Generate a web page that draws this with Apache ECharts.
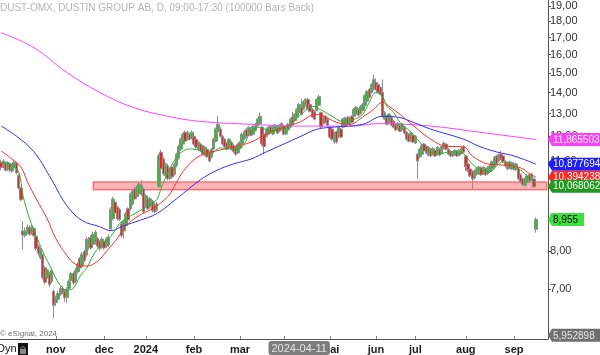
<!DOCTYPE html>
<html>
<head>
<meta charset="utf-8">
<script src="https://cdn.jsdelivr.net/npm/echarts@6/dist/echarts.min.js"></script>
<style>
  html, body { margin: 0; padding: 0; background: #fff; }
  #chart { width: 600px; height: 355px; }
</style>
</head>
<body>
<div id="chart"></div>
<script>
// trading calendar (Nasdaq Stockholm)
const firstDay = '2023-09-27'
const lastDay = '2024-09-23'
const holidays = ['2023-12-25', '2023-12-26', '2024-01-01', '2024-03-29', '2024-04-01',
  '2024-05-01', '2024-05-09', '2024-06-06', '2024-06-21']

const monthTicks = {
  '2023-11-01': 'nov', '2023-12-01': 'dec', '2024-01-02': '2024', '2024-02-01': 'feb',
  '2024-03-01': 'mar', '2024-04-02': 'apr', '2024-05-02': 'mai', '2024-06-03': 'jun',
  '2024-07-01': 'jul', '2024-08-01': 'aug', '2024-09-02': 'sep'
}

// [open, close, low, high]
const ohlc = [
  [10.95,10.75,10.65,11.05],[10.8,11.0,10.72,11.08],[10.9,10.65,10.6,10.98],[10.7,10.95,10.62,11.0],[10.9,10.66,10.58,10.95],
  [10.62,10.8,10.55,10.86],[10.75,10.95,10.7,11.02],[10.9,10.55,10.5,10.95],[10.45,10.0,9.95,10.5],[10.0,9.6,9.55,10.05],
  [8.6,8.48,8.05,8.9],[8.46,8.6,8.4,8.7],[8.55,8.72,8.5,8.8],[8.7,8.5,8.45,8.78],[8.52,8.7,8.48,8.78],
  [8.67,8.46,8.42,8.72],[8.43,8.08,8.02,8.5],[8.15,7.95,7.88,8.2],[7.82,8.05,7.78,8.1],[7.9,7.3,7.25,7.95],
  [7.55,7.18,7.12,7.6],[7.28,7.5,7.22,7.56],[7.4,7.12,7.05,7.45],[7.2,7.48,7.15,7.55],[6.95,6.62,6.33,7.0],
  [6.68,6.78,6.6,6.85],[6.76,6.9,6.7,6.96],[6.88,7.02,6.84,7.08],[7.02,6.92,6.88,7.08],[6.95,6.8,6.7,7.0],
  [6.8,7.0,6.67,7.05],[7.02,7.2,6.98,7.25],[7.22,7.4,7.18,7.45],[7.4,7.16,7.12,7.45],[7.2,7.48,7.15,7.55],
  [7.45,7.65,7.4,7.7],[7.8,7.55,7.5,7.85],[7.6,7.92,7.55,7.98],[8.0,7.75,7.7,8.05],[7.9,8.35,7.85,8.42],
  [8.12,8.35,8.05,8.42],[8.4,8.1,8.05,8.48],[8.2,8.5,8.15,8.58],[8.25,8.56,8.2,8.62],[8.37,8.15,8.1,8.42],
  [8.28,8.08,8.02,8.33],[8.12,8.36,8.08,8.42],[8.3,8.1,8.05,8.35],[8.15,8.37,8.1,8.42],[8.18,8.42,8.12,8.5],
  [8.66,9.28,8.6,9.35],[8.98,9.62,8.92,9.7],[9.52,9.16,9.1,9.6],[9.35,8.98,8.92,9.4],[9.28,8.95,8.9,9.33],
  [8.82,8.46,8.4,8.88],[8.6,8.9,8.38,8.95],[8.76,9.14,8.7,9.2],[9.3,8.94,8.9,9.35],[9.3,9.8,9.25,9.85],
  [9.46,9.9,9.4,9.97],[9.97,9.63,9.58,10.03],[9.7,10.03,9.65,10.1],[9.8,10.15,9.75,10.2],[9.78,10.1,9.72,10.28],
  [9.97,9.2,9.15,10.02],[9.4,9.73,9.35,9.8],[9.63,9.3,9.25,9.7],[9.36,9.63,9.3,9.7],[9.55,9.23,9.18,9.6],
  [9.42,9.2,9.15,9.5],[9.25,9.46,9.2,9.52],[10.05,11.2,10.0,11.3],[11.35,10.72,10.65,11.45],[11.08,10.52,10.45,11.15],
  [10.45,10.88,10.4,10.95],[10.82,10.33,10.28,10.9],[10.35,10.7,10.3,10.76],[10.77,10.4,10.35,10.82],[10.5,10.88,10.45,10.95],
  [10.82,11.27,10.76,11.33],[11.1,11.58,11.05,11.65],[11.47,11.88,11.4,11.95],[11.68,12.09,11.6,12.15],[12.18,11.8,11.75,12.25],
  [11.88,12.18,11.82,12.25],[12.09,11.88,11.83,12.15],[11.92,12.18,11.88,12.25],[12.0,11.68,11.62,12.05],[11.88,11.55,11.5,11.95],
  [11.47,11.75,11.42,11.82],[11.68,11.4,11.35,11.72],[11.6,11.27,11.22,11.65],[11.25,11.55,11.2,11.6],[11.47,11.17,11.12,11.52],
  [11.38,11.0,10.95,11.42],[11.15,11.47,11.1,11.52],[11.47,11.88,11.42,11.95],[11.8,12.31,11.75,12.38],[12.2,12.52,12.15,12.88],
  [12.31,12.0,11.95,12.4],[12.0,11.68,11.62,12.05],[11.88,11.58,11.52,11.93],[11.72,11.47,11.42,11.78],[11.55,11.88,11.5,11.92],
  [11.75,11.47,11.42,11.8],[11.62,11.38,11.32,11.68],[11.52,11.27,11.2,11.56],[11.32,11.66,11.28,11.72],[11.5,11.75,11.45,11.8],
  [11.68,12.09,11.62,12.15],[11.9,12.2,11.85,12.28],[12.28,12.0,11.95,12.35],[12.1,12.39,12.05,12.45],[12.3,12.05,12.0,12.38],
  [12.09,12.42,12.05,12.5],[12.25,12.52,12.2,12.58],[12.45,12.75,12.4,12.82],[12.55,12.88,12.5,13.05],[12.4,11.68,11.62,12.45],
  [12.09,11.58,11.27,12.15],[12.0,12.31,11.95,12.38],[12.09,12.39,12.05,12.45],[12.42,12.18,12.12,12.48],[12.1,12.38,12.05,12.44],
  [12.27,12.48,12.22,12.54],[12.39,12.14,12.1,12.45],[12.22,12.48,12.18,12.54],[12.31,12.56,12.27,12.62],[12.44,12.09,12.04,12.5],
  [12.1,12.39,12.05,12.45],[12.27,12.52,12.22,12.58],[12.39,12.75,12.35,12.82],[12.84,12.52,12.47,13.07],[12.68,12.97,12.63,13.03],
  [12.84,13.2,12.8,13.26],[13.05,13.43,13.0,13.5],[13.3,12.97,12.92,13.7],[13.2,13.57,13.15,13.63],[13.35,13.67,13.3,13.74],
  [13.67,13.2,13.15,13.74],[13.43,13.1,13.05,13.48],[13.2,12.84,12.8,13.25],[13.1,12.75,12.7,13.15],[13.15,13.67,13.1,13.72],
  [13.39,13.8,13.35,13.9],[13.05,12.4,12.35,13.1],[12.55,12.84,12.5,12.9],[12.88,12.61,12.56,12.94],[12.75,12.48,12.43,12.8],
  [12.39,11.97,11.92,12.45],[12.31,11.88,11.82,12.36],[11.76,12.14,11.7,12.2],[12.2,11.76,11.7,12.25],[11.97,12.39,11.92,12.45],
  [12.31,11.97,11.92,12.36],[12.39,12.75,12.35,12.8],[12.44,12.8,12.4,12.86],[12.84,12.56,12.5,12.9],[12.52,12.82,12.47,12.88],
  [12.88,12.61,12.56,12.93],[12.88,13.2,12.83,13.26],[12.97,13.3,12.92,13.36],[13.2,12.93,12.88,13.25],[13.0,13.34,12.95,13.4],
  [13.15,13.43,13.1,13.5],[13.38,13.86,13.33,13.92],[13.58,14.06,13.52,14.12],[14.16,13.77,13.72,14.22],[14.01,14.41,13.96,14.48],
  [14.16,14.66,14.1,14.92],[14.5,14.16,14.1,14.72],[14.41,14.01,13.95,14.5],[14.26,13.91,13.86,14.32],[14.01,12.88,12.82,14.66],
  [12.75,13.06,12.7,13.12],[12.88,12.52,12.47,12.94],[12.6,12.97,12.55,13.03],[12.84,12.48,12.42,12.9],[12.66,12.39,12.34,12.72],
  [12.52,12.27,12.22,12.58],[12.31,12.56,12.27,12.62],[12.48,12.22,12.18,12.52],[12.27,12.52,12.22,12.58],[12.39,12.14,12.1,12.45],
  [12.18,11.88,11.82,12.22],[12.09,11.8,11.75,12.14],[11.84,12.14,11.78,12.2],[12.05,11.76,11.72,12.1],[11.72,12.0,11.68,12.05],
  [11.27,11.0,10.33,11.32],[11.17,11.47,11.1,11.52],[11.27,11.62,11.22,11.68],[11.68,11.4,11.35,11.72],[11.58,11.31,11.27,11.62],
  [11.23,11.55,11.18,11.6],[11.47,11.2,11.15,11.52],[11.27,11.5,11.22,11.56],[11.43,11.2,11.15,11.48],[11.27,11.55,11.22,11.6],
  [11.47,11.24,11.18,11.52],[11.3,11.58,11.25,11.63],[11.5,11.72,11.45,11.78],[11.68,11.47,11.42,11.72],[11.47,11.27,11.22,11.52],
  [11.38,11.2,11.15,11.43],[11.2,11.35,11.15,11.4],[11.25,11.43,11.2,11.48],[11.38,11.2,11.15,11.43],[11.23,11.43,11.18,11.48],
  [11.32,11.5,11.27,11.56],[11.58,11.35,11.3,11.63],[11.2,10.78,10.63,11.25],[10.89,10.63,10.58,10.95],[10.7,10.44,10.39,10.76],
  [10.6,10.33,9.97,10.65],[10.36,10.63,10.3,10.68],[10.5,10.7,10.45,10.76],[10.55,10.77,10.5,10.82],[10.74,10.48,10.43,10.8],
  [10.52,10.77,10.47,10.82],[10.7,10.48,10.43,10.75],[10.52,10.74,10.47,10.8],[10.6,10.81,10.55,10.86],[10.7,10.97,10.65,11.02],
  [10.78,11.15,10.73,11.2],[11.2,10.89,10.84,11.25],[11.0,11.24,10.95,11.3],[11.27,11.08,11.03,11.4],[11.2,10.97,10.92,11.25],
  [10.97,10.81,10.76,11.02],[10.7,10.93,10.65,10.98],[10.97,10.74,10.69,11.02],[10.7,10.93,10.65,10.98],[10.89,10.7,10.65,10.94],
  [10.67,10.89,10.62,10.94],[10.7,10.33,10.28,10.75],[10.48,10.22,10.17,10.53],[10.33,10.12,10.07,10.38],[10.1,10.33,10.05,10.38],
  [10.2,10.44,10.15,10.5],[10.48,10.26,10.21,10.53],[10.3,10.51,10.25,10.56],[10.33,10.05,10.0,10.38],[8.65,8.955,8.55,9.02]
]

// moving averages: [bar index, value]
const maGreen = [[0,10.97],[5,10.81],[8,10.59],[10,9.74],[13,8.98],[16,8.46],[19,8.0],[22,7.63],[25,7.28],[27,7.10],
  [30,6.98],[33,7.03],[36,7.33],[39,7.54],[42,7.89],[45,8.14],[50,8.43],[54,8.82],[57,8.98],[62,9.18],[67,9.40],
  [71,9.6],[73,10.0],[77,10.7],[81,11.24],[86,11.48],[91,11.40],[95,11.24],[100,11.52],[104,11.48],[109,11.52],
  [114,12.18],[118,12.39],[123,12.22],[129,12.30],[133,12.61],[138,13.07],[142,13.34],[147,13.11],[151,12.88],
  [156,12.65],[161,12.74],[165,12.98],[168,13.53],[171,14.01],[174,13.81],[176,13.34],[179,13.07],[182,12.61],
  [187,12.18],[191,11.76],[194,11.48],[199,11.28],[205,11.36],[211,11.28],[214,10.97],[218,10.70],[223,10.59],
  [226,10.81],[229,10.97],[234,10.81],[238,10.59],[241,10.34],[243,10.24],[244,10.068062]]
const maRed = [[0,11.40],[5,11.08],[9,10.78],[12,10.23],[16,9.63],[21,8.98],[25,8.37],[30,7.89],[34,7.65],[39,7.60],
  [44,7.73],[48,8.00],[53,8.37],[57,8.76],[63,9.08],[69,9.30],[76,9.70],[80,10.2],[83,10.6],[88,11.05],[92,11.25],
  [98,11.40],[106,11.56],[114,11.76],[121,12.10],[129,12.39],[136,12.61],[144,12.97],[147,12.9],[153,12.61],
  [159,12.52],[165,12.85],[170,13.20],[174,13.53],[177,13.34],[183,12.88],[190,12.31],[196,11.88],[203,11.59],
  [211,11.56],[215,11.20],[222,10.89],[228,10.85],[234,10.81],[238,10.70],[241,10.52],[244,10.394238]]
const maBlue = [[0,12.44],[7,12.01],[15,11.36],[22,10.45],[30,9.40],[37,8.92],[45,8.73],[50,8.61],[56,8.76],[63,8.92],
  [71,9.14],[80,9.63],[91,10.30],[98,10.63],[106,10.89],[114,11.08],[121,11.36],[129,11.68],[136,11.97],[144,12.30],
  [152,12.40],[165,12.52],[174,12.88],[181,12.84],[188,12.61],[196,12.31],[211,11.88],[218,11.59],[226,11.36],
  [234,11.20],[244,10.877694]]
const maMagenta = [[0,17.29],[15,16.40],[30,15.03],[45,14.01],[60,13.30],[76,12.88],[91,12.65],[114,12.52],
  [136,12.44],[159,12.44],[173,12.55],[196,12.44],[218,12.18],[244,11.865503]]

// support zone
const zoneStart = '2023-11-24'
const zoneTop = 10.22
const zoneBottom = 9.94

const yTicks = [7, 8, 9, 10, 11, 12, 13, 14, 15, 16, 17, 18, 19]
const yMin = 5.877
const yMax = 19.40

// last values shown on the price scale
const lastValues = [11.865503, 10.877694, 10.394238, 10.068062, 8.955, 5.952898]
const markColors = ['#ff3dff', '#1e1eff', '#ff2626', '#1f9a1f', '#3ee03e', '#6e6e6e']
const markText = ['#ffffff', '#ffffff', '#ffffff', '#ffffff', '#000000', '#e8e8e8']

const crossDate = '2024-04-11'

function buildDates() {
  const out = []
  const d = new Date(firstDay + 'T00:00:00Z')
  const end = new Date(lastDay + 'T00:00:00Z')
  while (d <= end) {
    const s = d.toISOString().slice(0, 10)
    const wd = d.getUTCDay()
    if (wd !== 0 && wd !== 6 && holidays.indexOf(s) < 0) out.push(s)
    d.setUTCDate(d.getUTCDate() + 1)
  }
  return out
}

const dates = buildDates()
const chart = echarts.init(document.getElementById('chart'))
const font = 'Liberation Sans'

function maSeries(data, color) {
  return {
    type: 'line',
    data: data,
    smooth: 0.4,
    symbol: 'none',
    silent: true,
    lineStyle: { color: color, width: 1 }
  }
}

const baseGraphic = [
  {
    type: 'text', left: 0, top: 3,
    style: { text: 'DUST-OMX, DUSTIN GROUP AB, D, 09:00-17:30 (100000 Bars Back)', fill: '#b4b4b4', font: '10px ' + font }
  },
  {
    type: 'text', left: 0, top: 330,
    style: { text: '\u00a9 eSignal, 2024', fill: '#707070', font: '8px ' + font }
  },
  {
    type: 'text', left: -3, top: 343,
    style: { text: 'Dyn', fill: '#111', font: '11px ' + font }
  },
  { type: 'rect', shape: { x: 18, y: 343, width: 10, height: 12 }, style: { fill: '#111' } },
  { type: 'rect', shape: { x: 20, y: 349, width: 6, height: 5 }, style: { fill: '#888' } },
  { type: 'arc', shape: { cx: 23, cy: 349, r: 2.2, startAngle: Math.PI, endAngle: 2 * Math.PI }, style: { stroke: '#888', lineWidth: 1, fill: null } }
]

const option = {
  animation: false,
  grid: { left: 0, right: 52, top: 0, bottom: 14 },
  xAxis: {
    type: 'category',
    data: dates,
    boundaryGap: true,
    axisLine: { lineStyle: { color: '#555', width: 1 } },
    axisTick: {
      show: true, inside: true, length: 3, alignWithLabel: true,
      interval: (i, v) => v in monthTicks,
      lineStyle: { color: '#888' }
    },
    axisLabel: {
      interval: (i, v) => v in monthTicks,
      formatter: v => monthTicks[v] || '',
      fontWeight: 'bold', fontSize: 11, color: '#1a1a1a', margin: 5, fontFamily: font
    },
    splitLine: { show: false },
    axisPointer: {
      show: true, value: crossDate, status: 'show', type: 'line', triggerTooltip: false,
      lineStyle: { opacity: 0 },
      label: {
        show: true, backgroundColor: '#7d7d7d', color: '#e6e6e6', fontSize: 11,
        fontFamily: font, padding: [2, 3, 1, 3], margin: 2
      },
      handle: { show: false }
    }
  },
  yAxis: {
    type: 'log',
    logBase: 10,
    position: 'right',
    min: yMin,
    max: yMax,
    axisLine: { show: true, lineStyle: { color: '#555', width: 1 } },
    axisTick: { show: true, length: 3, customValues: yTicks, lineStyle: { color: '#555' } },
    axisLabel: {
      customValues: yTicks,
      formatter: v => v.toFixed(2).replace('.', ','),
      color: '#333', fontSize: 11, margin: 2, fontFamily: font
    },
    splitLine: { show: false }
  },
  series: [
    {
      type: 'candlestick',
      data: ohlc,
      barWidth: 3,
      silent: true,
      itemStyle: {
        color: '#36b836', color0: '#e82424',
        borderColor: '#8f8f8f', borderColor0: '#8f8f8f', borderColorDoji: '#8f8f8f', borderWidth: 1
      },
      markArea: {
        silent: true,
        itemStyle: { color: 'rgba(255, 150, 150, 0.7)', borderColor: '#ff4040', borderWidth: 1 },
        data: [[{ xAxis: zoneStart, yAxis: zoneTop }, { xAxis: dates[dates.length - 1], yAxis: zoneBottom }]]
      }
    },
    maSeries(maMagenta, '#ff40ff'),
    maSeries(maBlue, '#3030ff'),
    maSeries(maRed, '#ff2a2a'),
    maSeries(maGreen, '#2fae2f')
  ],
  graphic: baseGraphic
}

chart.setOption(option)

// price-scale tags for the last values
const marks = lastValues.map((v, k) => {
  const y = chart.convertToPixel({ yAxisIndex: 0 }, v)
  const txt = String(v).replace('.', ',')
  const w = txt.length > 6 ? 53 : 36
  return {
    type: 'group', x: 548, y: y, z: 100 + k,
    children: [
      { type: 'polygon', z: 100 + k, shape: { points: [[0, 0], [4, -6.5], [w, -6.5], [w, 6.5], [4, 6.5]] }, style: { fill: markColors[k] } },
      { type: 'text', z: 101 + k, x: 5, y: 0.5, style: { text: txt, fill: markText[k], font: '10px ' + font, verticalAlign: 'middle' } }
    ]
  }
})
chart.setOption({ graphic: baseGraphic.concat(marks) })
</script>
</body>
</html>
